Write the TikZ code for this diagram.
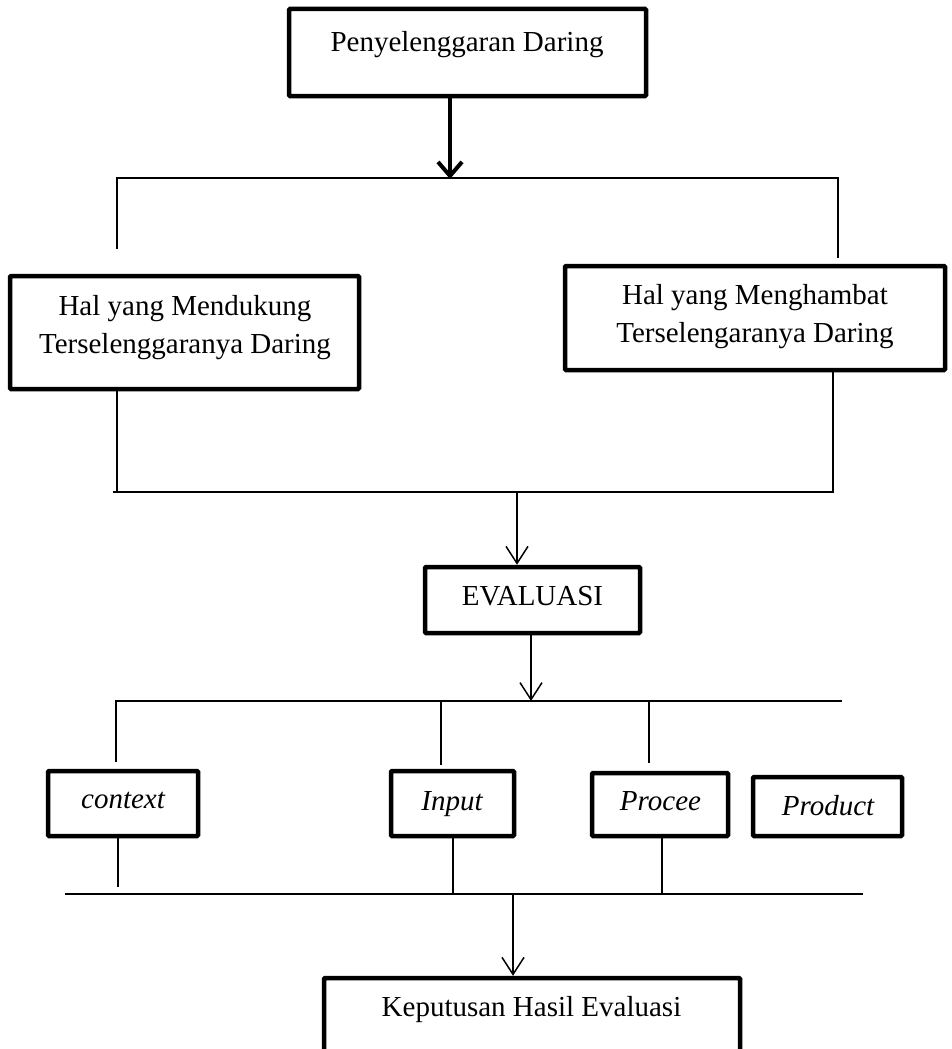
\documentclass[tikz,border=0pt]{standalone}
\usepackage{fontspec}
\setmainfont{Liberation Serif}
\usetikzlibrary{arrows.meta}
\begin{document}
\begin{tikzpicture}[x=1pt,y=-1pt,
  box/.style={draw, line width=4.5pt, rectangle, inner sep=0pt, rounded corners=1pt},
  lbl/.style={anchor=base, align=center, inner sep=0pt, font=\fontsize{29}{38}\selectfont},
  conn/.style={line width=1.5pt},
  thinarrow/.style={line width=1.5pt, -{Straight Barb[length=17pt,width=22pt,line width=1.5pt]}},
  thickarrow/.style={line width=4pt, -{Straight Barb[length=14pt,width=24pt,line width=4pt]}}]
\clip (0,0) rectangle (951,1049);
\fill[white] (0,0) rectangle (951,1049);
% boxes
\node[box, minimum width=357pt, minimum height=87pt] (top) at (467.5,52.5) {};
\node[lbl] (ttop) at (467,52) {Penyelenggaran Daring};
\node[box, minimum width=349pt, minimum height=113pt] (sup) at (184.5,332.5) {};
\node[lbl] (tsup) at (185,353) {Hal yang Mendukung\\Terselenggaranya Daring};
\node[box, minimum width=380pt, minimum height=104pt] (hin) at (755,318) {};
\node[lbl] (thin) at (755,342) {Hal yang Menghambat\\Terselengaranya Daring};
\node[box, minimum width=215pt, minimum height=66pt] (eva) at (532.5,600) {};
\node[lbl] (teva) at (532.5,605) {EVALUASI};
\node[box, minimum width=150pt, minimum height=65pt] (ctx) at (123,803.5) {};
\node[lbl] (tctx) at (123,808) {\itshape context};
\node[box, minimum width=123pt, minimum height=65pt] (inp) at (452.5,803.5) {};
\node[lbl] (tinp) at (452,810) {\itshape Input};
\node[box, minimum width=136pt, minimum height=63pt] (pro) at (660,804.5) {};
\node[lbl] (tpro) at (660.5,810) {\itshape Procee};
\node[box, minimum width=149pt, minimum height=59pt] (prd) at (827.5,806.5) {};
\node[lbl] (tprd) at (828,815) {\itshape Product};
\node[box, minimum width=416pt, minimum height=92pt] (dec) at (532,1024) {};
\node[lbl] (tdec) at (531.5,1016) {Keputusan Hasil Evaluasi};
% junction coordinates
\coordinate (a1) at (450,178);
\coordinate (h1l) at (117,178);
\coordinate (h1r) at (838,178);
\coordinate (v1l) at (117,249);
\coordinate (v1r) at (838,258);
\coordinate (h2l) at (113,492);
\coordinate (h2r) at (833,492);
\coordinate (a2) at (517,492);
\coordinate (h3l) at (116,701);
\coordinate (h3r) at (842,701);
\coordinate (a3) at (531,701);
\coordinate (v3a) at (116,762);
\coordinate (v3b) at (441,765);
\coordinate (v3c) at (649,763);
\coordinate (j3b) at (441,701);
\coordinate (j3c) at (649,701);
\coordinate (h4l) at (65,894);
\coordinate (h4r) at (863,894);
\coordinate (u4a) at (118,887);
\coordinate (j4b) at (453,894);
\coordinate (j4c) at (662,894);
\coordinate (a4) at (513,894);
% connectors
\draw[thickarrow] (top.south -| a1) -- ([yshift=-1pt]a1);
\draw[conn] (v1l) -- (h1l) -- (h1r) -- (v1r);
\draw[conn] (sup.south -| h1l) -- (h1l |- h2l);
\draw[conn] (h2l) -- (h2r) -- (hin.south -| h2r);
\draw[thinarrow] (a2) -- (eva.north -| a2);
\draw[thinarrow] (eva.south -| a3) -- (a3);
\draw[conn] (v3a) -- (h3l) -- (h3r);
\draw[conn] (j3b) -- (v3b);
\draw[conn] (j3c) -- (v3c);
\draw[conn] (ctx.south -| u4a) -- (u4a);
\draw[conn] (inp.south -| j4b) -- (j4b);
\draw[conn] (pro.south -| j4c) -- (j4c);
\draw[conn] (h4l) -- (h4r);
\draw[thinarrow] (a4) -- (dec.north -| a4);
\end{tikzpicture}
\end{document}
